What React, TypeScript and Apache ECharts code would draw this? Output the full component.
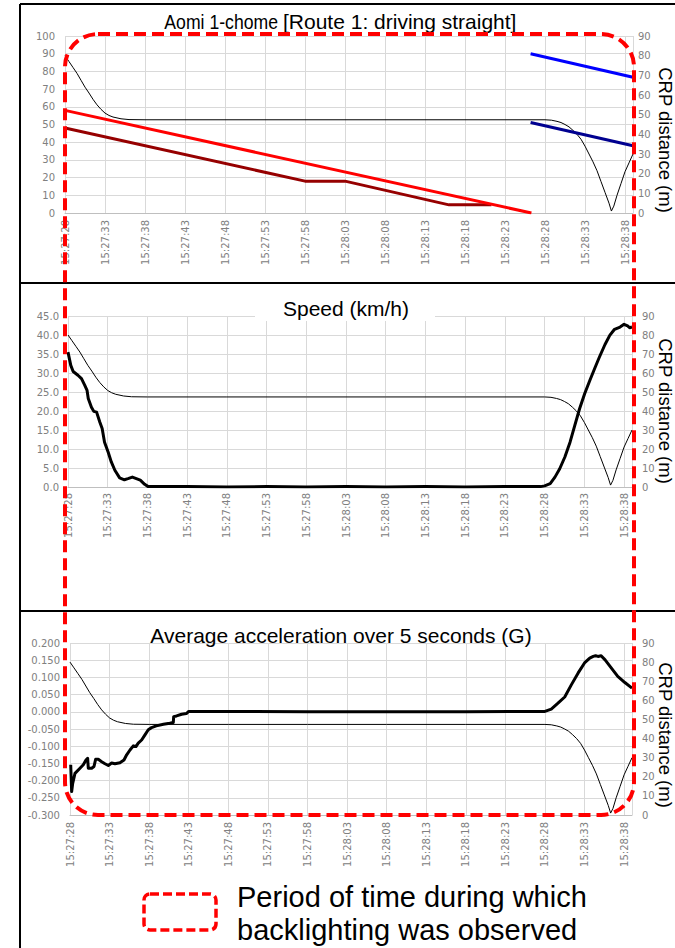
import React, { useEffect, useRef } from "react";
import * as echarts from "echarts";

// ---- tick labels ----
const timeLabels = [
  "15:27:28", "15:27:33", "15:27:38", "15:27:43", "15:27:48", "15:27:53", "15:27:58", "15:28:03",
  "15:28:08", "15:28:13", "15:28:18", "15:28:23", "15:28:28", "15:28:33", "15:28:38",
];

// ---- panel 1 (seconds after 15:27:28) ----
const redTime = [0, 58.3];
const redValue = [58, 0];
const darkRedTime = [0, 30, 35, 48, 53.3];
const darkRedValue = [48, 18, 18, 4.6, 4.6];
const blueTime = [58.2, 71];
const blueValue = [81, 69];
const navyTime = [58.2, 71];
const navyValue = [46, 34.2];

// ---- CRP distance (m), shown in all three panels ----
const crpTime = [0, 0.5, 1, 1.5, 2, 2.5, 3, 3.5, 4, 4.5, 5, 5.5, 6, 7, 8, 10, 20, 30, 40, 50, 60, 60.8, 61.5, 62, 62.5, 63, 63.5, 64, 64.5, 65, 65.5, 66, 66.5, 67, 67.5, 68, 68.3, 68.6, 69, 69.5, 70, 70.5, 71];
const crpDist = [80, 77, 74, 71, 67.5, 64, 61, 57.8, 55, 52.7, 50.8, 49.6, 48.8, 47.9, 47.5, 47.4, 47.4, 47.4, 47.4, 47.4, 47.4, 47.2, 46.6, 46, 45, 43.8, 42, 40, 37.5, 34, 30, 26, 21.5, 16, 10.5, 5, 1, 3.5, 9, 15, 21, 25.5, 30];

// ---- speed (km/h) ----
const speedTime = [0, 0.35, 0.65, 1.25, 1.7, 2.1, 2.4, 2.55, 2.95, 3.25, 3.6, 4.0, 4.3, 4.6, 5.05, 5.45, 5.9, 6.5, 7.1, 7.55, 8.1, 8.6, 9.1, 9.65, 10.1, 15, 20, 25, 30, 35, 40, 45, 50, 55, 59.5, 60.0, 60.7, 61.3, 61.9, 62.55, 63.2, 63.8, 64.4, 65.05, 65.7, 66.3, 66.9, 67.6, 68.2, 68.8, 69.5, 70.0, 70.45, 70.7, 71.0];
const speedKmh = [35.5, 32, 30.4, 29.4, 28.5, 26.8, 25.4, 23.3, 21, 19.9, 19.7, 17.1, 15.4, 11.8, 9.2, 6.6, 4.4, 2.4, 1.9, 2.2, 2.6, 2.2, 1.8, 0.7, 0.1, 0.1, 0.0, 0.1, 0.0, 0.1, 0.0, 0.1, 0.0, 0.1, 0.1, 0.3, 0.9, 2.6, 4.8, 7.9, 11.8, 16.2, 20.6, 24.6, 28.1, 31.2, 34.2, 37.5, 39.9, 41.5, 42.1, 42.8, 42.4, 41.9, 42.1];

// ---- average acceleration over 5 s (G) ----
const accTime = [0.09, 0.21, 0.34, 0.63, 1.26, 1.68, 2.02, 2.23, 2.31, 2.74, 3.03, 3.24, 3.57, 4.0, 4.42, 4.84, 5.26, 5.68, 6.31, 6.82, 7.16, 7.58, 8.0, 8.33, 8.62, 9.05, 9.47, 9.89, 10.3, 10.9, 11.8, 12.6, 13.05, 13.1, 13.47, 14.1, 14.7, 15.0, 20, 30, 40, 50, 60, 60.8, 61.65, 62.5, 63.35, 64.2, 65.0, 65.66, 66.1, 66.4, 66.7, 67.1, 67.6, 68.4, 69.2, 70.1, 71.0];
const accG = [-0.154, -0.232, -0.208, -0.179, -0.164, -0.154, -0.14, -0.135, -0.164, -0.164, -0.159, -0.138, -0.138, -0.145, -0.151, -0.156, -0.149, -0.151, -0.148, -0.14, -0.125, -0.111, -0.099, -0.101, -0.091, -0.082, -0.067, -0.052, -0.046, -0.041, -0.036, -0.033, -0.031, -0.014, -0.012, -0.007, -0.005, 0.001, 0.001, 0.0, 0.0, 0.0, 0.001, 0.008, 0.025, 0.043, 0.079, 0.113, 0.142, 0.156, 0.161, 0.163, 0.161, 0.163, 0.151, 0.127, 0.103, 0.085, 0.069];

const titles = [
  "Aomi 1-chome",
  "[Route 1: driving straight]",
  "Speed (km/h)",
  "Average acceleration over 5 seconds (G)",
];
const rightAxisName = "CRP distance (m)";
const legendLines = ["Period of time during which", "backlighting was observed"];

const zip = (t: number[], v: number[]) => t.map((x, i) => [x, v[i]]);

const GRID_COLOR = "#D9D9D9";
const LABEL_COLOR = "#808080";
const TICK_FONT = "DejaVu Sans";
const TITLE_FONT = "Liberation Sans";

function xFormatter(v: number) {
  const i = Math.round(v / 5);
  return Math.abs(v - i * 5) < 1e-6 && timeLabels[i] ? timeLabels[i] : "";
}

function makeX(gridIndex: number, margin: number) {
  return {
    type: "value",
    gridIndex,
    min: 0,
    max: 71,
    interval: 5,
    axisLine: { show: true, onZero: false, lineStyle: { color: "#BFBFBF" } },
    axisTick: { show: false },
    splitLine: { show: true, lineStyle: { color: GRID_COLOR } },
    axisLabel: {
      rotate: 90,
      margin,
      color: LABEL_COLOR,
      fontFamily: TICK_FONT,
      fontSize: 10,
      formatter: xFormatter,
      showMinLabel: true,
      showMaxLabel: true,
    },
  };
}

function makeLeftY(gridIndex: number, min: number, max: number, interval: number, decimals: number, margin: number) {
  return {
    type: "value",
    gridIndex,
    position: "left",
    min,
    max,
    interval,
    axisLine: { show: false },
    axisTick: { show: false },
    splitLine: { show: true, lineStyle: { color: GRID_COLOR } },
    axisLabel: {
      margin,
      color: LABEL_COLOR,
      fontFamily: TICK_FONT,
      fontSize: 10,
      formatter: (v: number) => v.toFixed(decimals),
    },
  };
}

function makeRightY(gridIndex: number, margin: number) {
  return {
    type: "value",
    gridIndex,
    position: "right",
    min: 0,
    max: 90,
    interval: 10,
    axisLine: { show: false },
    axisTick: { show: false },
    splitLine: { show: false },
    axisLabel: {
      margin,
      color: LABEL_COLOR,
      fontFamily: TICK_FONT,
      fontSize: 10,
    },
  };
}

function line(name: string, xi: number, yi: number, data: number[][], color: string, width: number, z = 2) {
  return {
    name,
    type: "line",
    xAxisIndex: xi,
    yAxisIndex: yi,
    data,
    showSymbol: false,
    symbol: "none",
    z,
    lineStyle: { color, width, join: "round" },
    emphasis: { disabled: true },
  };
}

export default function App() {
  const ref = useRef<HTMLDivElement>(null);
  useEffect(() => {
    if (!ref.current) return;
    const chart = echarts.init(ref.current, null, { renderer: "svg" });
    const crp = zip(crpTime, crpDist);
    const option = {
      animation: false,
      backgroundColor: "#ffffff",
      grid: [
        { left: 65, top: 36, width: 568, height: 177 },
        { left: 68, top: 316, width: 564, height: 171 },
        { left: 70, top: 643, width: 562, height: 172 },
      ],
      xAxis: [makeX(0, 7), makeX(1, 6), makeX(2, 7)],
      yAxis: [
        makeLeftY(0, 0, 100, 10, 0, 10),
        makeRightY(0, 5),
        makeLeftY(1, 0, 45, 5, 1, 9),
        makeRightY(1, 10),
        makeLeftY(2, -0.3, 0.2, 0.05, 3, 10),
        makeRightY(2, 10),
      ],
      series: [
        line("CRP distance 1", 0, 1, crp, "#000000", 1, 2),
        line("red", 0, 0, zip(darkRedTime, darkRedValue), "#960000", 3, 3),
        line("red2", 0, 0, zip(redTime, redValue), "#FF0000", 3, 4),
        line("blue", 0, 1, zip(blueTime, blueValue), "#0000FF", 3, 4),
        line("navy", 0, 1, zip(navyTime, navyValue), "#000090", 3, 4),
        line("CRP distance 2", 1, 3, crp, "#000000", 1, 2),
        line("Speed", 1, 2, zip(speedTime, speedKmh), "#000000", 3, 3),
        line("CRP distance 3", 2, 5, crp, "#000000", 1, 2),
        line("Acceleration", 2, 4, zip(accTime, accG), "#000000", 3, 3),
      ],
      graphic: {
        elements: [
          // frames
          { type: "line", z: 20, shape: { x1: 20, y1: 4, x2: 20, y2: 948 }, style: { stroke: "#000", lineWidth: 2 } },
          { type: "line", z: 20, shape: { x1: 20, y1: 4, x2: 675, y2: 4 }, style: { stroke: "#000", lineWidth: 2 } },
          { type: "line", z: 20, shape: { x1: 20, y1: 283, x2: 675, y2: 283 }, style: { stroke: "#000", lineWidth: 2 } },
          { type: "line", z: 20, shape: { x1: 20, y1: 611, x2: 675, y2: 611 }, style: { stroke: "#000", lineWidth: 2 } },
          // title background
          { type: "rect", z: 5, shape: { x: 255, y: 292, width: 180, height: 29 }, style: { fill: "#ffffff" } },
          // titles
          {
            type: "text", z: 30, x: 278, y: 21.5, scaleX: 0.84, scaleY: 1,
            style: { text: titles[0], fontFamily: TITLE_FONT, fontSize: 21, fill: "#000", align: "right", verticalAlign: "middle" },
          },
          {
            type: "text", z: 30, x: 283, y: 21.5,
            style: { text: titles[1], fontFamily: TITLE_FONT, fontSize: 21, fill: "#000", align: "left", verticalAlign: "middle" },
          },
          {
            type: "text", z: 30, x: 346, y: 308.5,
            style: { text: titles[2], fontFamily: TITLE_FONT, fontSize: 21, fill: "#000", align: "center", verticalAlign: "middle" },
          },
          {
            type: "text", z: 30, x: 341, y: 635.5,
            style: { text: titles[3], fontFamily: TITLE_FONT, fontSize: 21, fill: "#000", align: "center", verticalAlign: "middle" },
          },
          // right axis names
          ...[140, 411, 735].map((y) => ({
            type: "text", z: 30, x: 665, y, rotation: -Math.PI / 2,
            style: { text: rightAxisName, fontFamily: TITLE_FONT, fontSize: 18.5, fill: "#000", align: "center", verticalAlign: "middle" },
          })),
          // observed period (big dashed box)
          {
            type: "rect", z: 100,
            shape: { x: 65, y: 34, width: 569, height: 781, r: 33 },
            style: { fill: "none", stroke: "#FF0000", lineWidth: 4, lineDash: [12, 6] },
          },
          // legend
          {
            type: "rect", z: 100,
            shape: { x: 144, y: 894, width: 72, height: 36, r: 6 },
            style: { fill: "none", stroke: "#FF0000", lineWidth: 3.5, lineDash: [9, 4] },
          },
          {
            type: "text", z: 30, x: 237, y: 897,
            style: { text: legendLines[0], fontFamily: TITLE_FONT, fontSize: 29, fill: "#000", align: "left", verticalAlign: "middle" },
          },
          {
            type: "text", z: 30, x: 237, y: 930,
            style: { text: legendLines[1], fontFamily: TITLE_FONT, fontSize: 29, fill: "#000", align: "left", verticalAlign: "middle" },
          },
        ],
      },
    };
    chart.setOption(option as any);
    return () => chart.dispose();
  }, []);
  return (
    <div
      ref={ref}
      style={{ position: "fixed", left: 0, top: 0, width: 675, height: 948, background: "#fff" }}
    />
  );
}
